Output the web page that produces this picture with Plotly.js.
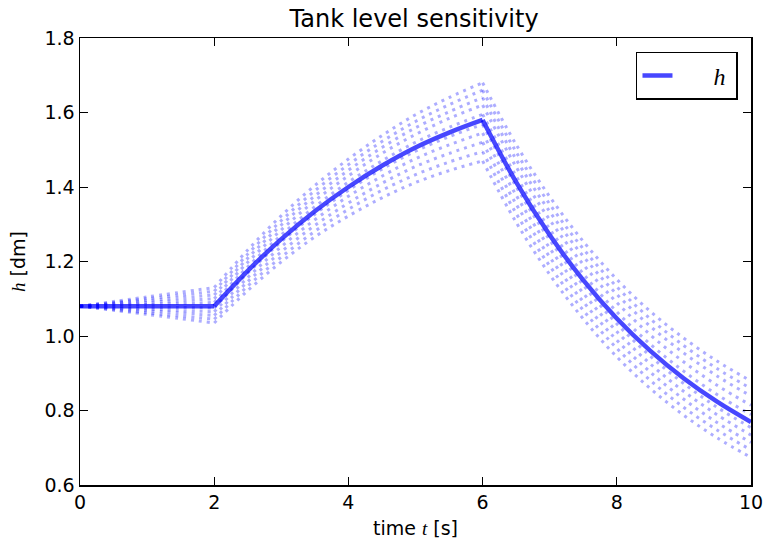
<!DOCTYPE html>
<html>
<head>
<meta charset="utf-8">
<script src="https://cdn.plot.ly/plotly-3.0.1.min.js"></script>
<style>html,body{margin:0;padding:0;background:#fff;}#chart{width:764px;height:539px;}</style>
</head>
<body>
<div id="chart"></div>
<script>
// time grid [s]
const time = [0, 1, 2, 2.5, 3, 3.5, 4, 4.5, 5, 5.5, 6, 6.5, 7, 7.5, 8, 8.5, 9, 9.5, 10];
// nominal tank level h [dm]
const hNominal = [1.08, 1.08, 1.08, 1.175, 1.26, 1.335, 1.40, 1.457, 1.506, 1.546, 1.58, 1.413, 1.271, 1.150, 1.047, 0.960, 0.886, 0.823, 0.769];
// perturbed tank levels (sensitivity runs)
const hRun1  = [1.08, 1.058, 1.035, 1.122, 1.199, 1.266, 1.322, 1.371, 1.412, 1.444, 1.47, 1.305, 1.165, 1.046, 0.944, 0.859, 0.787, 0.726, 0.674];
const hRun2  = [1.08, 1.062, 1.045, 1.134, 1.212, 1.281, 1.34, 1.391, 1.433, 1.467, 1.495, 1.329, 1.188, 1.069, 0.967, 0.881, 0.808, 0.747, 0.694];
const hRun3  = [1.08, 1.068, 1.055, 1.146, 1.226, 1.297, 1.357, 1.41, 1.455, 1.49, 1.52, 1.354, 1.212, 1.092, 0.989, 0.903, 0.83, 0.767, 0.714];
const hRun4  = [1.08, 1.072, 1.065, 1.157, 1.24, 1.312, 1.375, 1.429, 1.476, 1.513, 1.545, 1.378, 1.236, 1.115, 1.012, 0.925, 0.851, 0.788, 0.734];
const hRun5  = [1.08, 1.078, 1.075, 1.169, 1.253, 1.327, 1.391, 1.448, 1.496, 1.535, 1.568, 1.401, 1.258, 1.137, 1.033, 0.946, 0.872, 0.808, 0.754];
const hRun6  = [1.08, 1.085, 1.09, 1.186, 1.271, 1.347, 1.413, 1.47, 1.52, 1.56, 1.595, 1.429, 1.287, 1.167, 1.065, 0.978, 0.905, 0.842, 0.789];
const hRun7  = [1.08, 1.09, 1.10, 1.198, 1.285, 1.363, 1.43, 1.49, 1.541, 1.584, 1.62, 1.454, 1.312, 1.192, 1.09, 1.003, 0.93, 0.867, 0.814];
const hRun8  = [1.08, 1.095, 1.11, 1.209, 1.298, 1.376, 1.445, 1.506, 1.559, 1.602, 1.64, 1.474, 1.334, 1.214, 1.112, 1.026, 0.954, 0.892, 0.839];
const hRun9  = [1.08, 1.10, 1.12, 1.22, 1.31, 1.39, 1.46, 1.522, 1.576, 1.621, 1.66, 1.494, 1.354, 1.234, 1.132, 1.046, 0.974, 0.912, 0.859];
const hRun10 = [1.08, 1.105, 1.13, 1.231, 1.323, 1.404, 1.475, 1.538, 1.594, 1.64, 1.68, 1.514, 1.374, 1.254, 1.152, 1.066, 0.994, 0.932, 0.879];
const runs = [hRun1, hRun2, hRun3, hRun4, hRun5, hRun6, hRun7, hRun8, hRun9, hRun10];

const xTicks = [0, 2, 4, 6, 8, 10];
const yTicks = [0.6, 0.8, 1.0, 1.2, 1.4, 1.6, 1.8];

// phases of the input: constant, filling, draining (indices into time grid)
const phases = [[0, 2], [2, 10], [10, 18]];

const traces = [];
runs.forEach(r => {
  phases.forEach(([a, b]) => {
    traces.push({
      x: time.slice(a, b + 1), y: r.slice(a, b + 1), type: 'scatter', mode: 'lines',
      showlegend: false, hoverinfo: 'skip',
      line: {color: 'rgba(0,0,255,0.32)', width: 3, dash: '3px,5px', shape: 'spline', smoothing: 1}
    });
  });
});
phases.forEach(([a, b], i) => {
  traces.push({
    x: time.slice(a, b + 1), y: hNominal.slice(a, b + 1), type: 'scatter', mode: 'lines',
    name: '&nbsp;&nbsp;&nbsp;&nbsp;&nbsp;&nbsp;<i>h</i>&nbsp;', legendgroup: 'h', showlegend: i === 0,
    line: {color: 'rgba(0,0,255,0.72)', width: 4.5, shape: 'spline', smoothing: 1}
  });
});

const axisCommon = {
  showgrid: false, zeroline: false, showline: true, linecolor: '#000', linewidth: 1.5,
  mirror: 'ticks', ticks: 'inside', ticklen: 8, tickwidth: 1, tickcolor: '#000',
  tickfont: {family: 'DejaVu Sans', size: 19, color: '#000'}, automargin: false
};

const layout = {
  width: 764, height: 539,
  margin: {l: 80, r: 13, t: 38, b: 54},
  paper_bgcolor: '#fff', plot_bgcolor: '#fff',
  title: {text: 'Tank level sensitivity', font: {family: 'DejaVu Sans', size: 24, color: '#000'},
          x: 0.542, xanchor: 'center', y: 0.965, yanchor: 'middle'},
  xaxis: Object.assign({}, axisCommon, {
    range: [0, 10], tickvals: xTicks, ticktext: xTicks.map(String),
    title: {text: 'time <span style="font-family:Liberation Serif;font-style:italic">t</span> [s]',
            font: {family: 'DejaVu Sans', size: 19, color: '#000'}, standoff: 17}
  }),
  yaxis: Object.assign({}, axisCommon, {
    range: [0.6, 1.8], tickvals: yTicks, ticktext: yTicks.map(v => v.toFixed(1)),
    title: {text: '<span style="font-family:Liberation Serif;font-style:italic">h</span> [dm]',
            font: {family: 'DejaVu Sans', size: 19, color: '#000'}, standoff: 14}
  }),
  showlegend: true,
  legend: {x: 0.9806, xanchor: 'right', y: 0.969, yanchor: 'top',
           bordercolor: '#000', borderwidth: 1.5, bgcolor: '#fff',
           font: {family: 'Liberation Serif', size: 24, color: '#000'}}
};

Plotly.newPlot('chart', traces, layout, {staticPlot: true, displayModeBar: false});
</script>
</body>
</html>
